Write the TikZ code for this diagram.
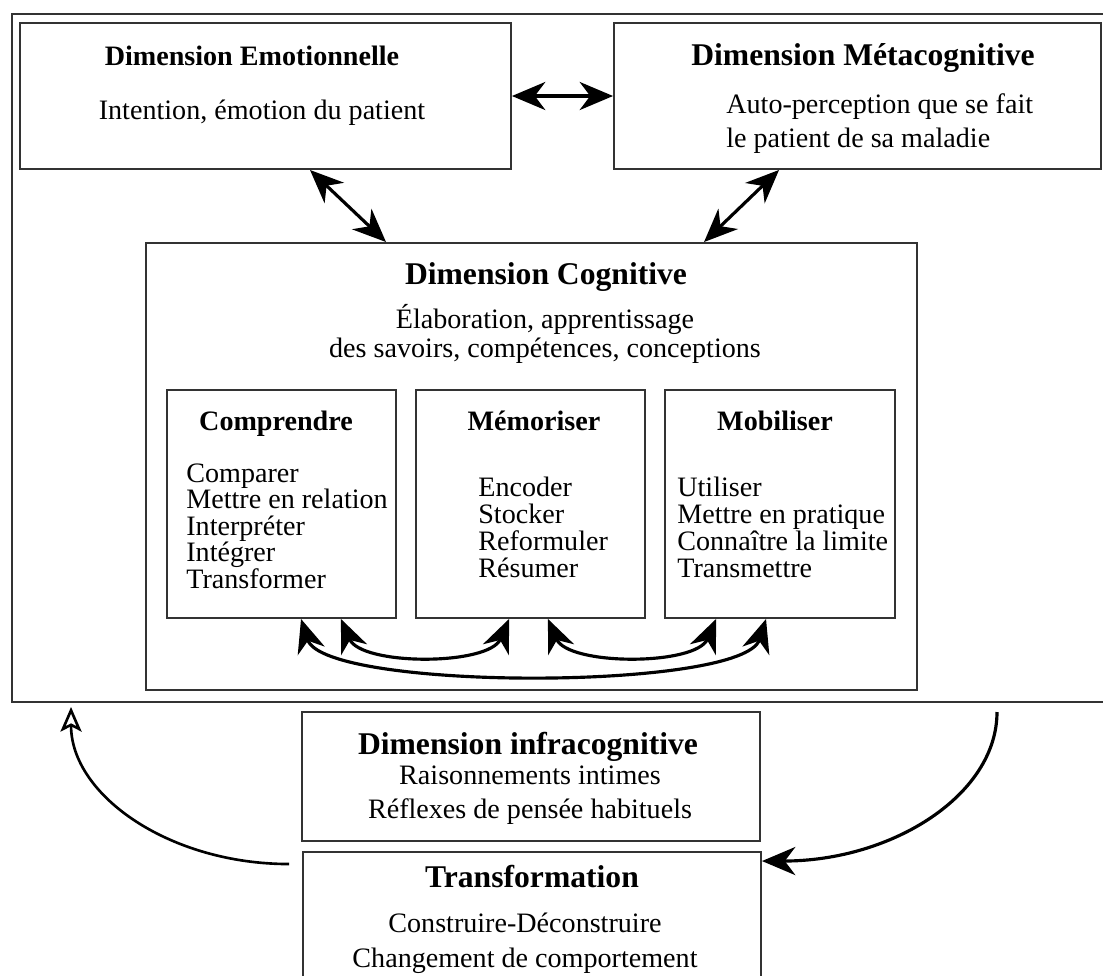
\documentclass[tikz,border=0pt]{standalone}
\usepackage{fontspec}
\setmainfont{Liberation Serif}
\usetikzlibrary{arrows.meta,fit,calc}
\tikzset{
  cadre/.style={draw=black!80, line width=1.1pt, inner sep=0pt},
  titre/.style={font=\bfseries\fontsize{18}{21}\selectfont, anchor=base, inner sep=0pt},
  soustitre/.style={font=\bfseries\fontsize{16}{19}\selectfont, anchor=base, inner sep=0pt},
  texte/.style={font=\fontsize{16}{19}\selectfont, anchor=base, inner sep=0pt},
  pointe/.tip={Stealth[length=19pt,width=16pt,inset=6pt]},
  fleche/.style={line width=1.8pt, {pointe}-{pointe}}
}
\begin{document}
\begin{tikzpicture}[x=0.02cm, y=-0.02cm]
\useasboundingbox (0,0) rectangle (1103,975);
\clip (0,0) rectangle (1103,975);
% les cadres
\node[cadre, fit={(12,14) (1115,702)}] (cadre) {};
\node[cadre, fit={(20,23) (511,169)}] (emo) {};
\node[cadre, fit={(614,23) (1101,169)}] (meta) {};
\node[cadre, fit={(146,243) (917,690)}] (cog) {};
\node[cadre, fit={(167,390) (396,618)}] (cmp) {};
\node[cadre, fit={(416,390) (645,618)}] (mem) {};
\node[cadre, fit={(665,390) (895,618)}] (mob) {};
\node[cadre, fit={(302,712) (760,841)}] (infra) {};
\node[cadre, fit={(303,852) (761,990)}] (trans) {};
% les textes
\node[soustitre] (emotitre) at (252,65) {Dimension Emotionnelle};
\node[texte] (emotexte) at (262,119) {Intention, émotion du patient};
\node[titre] (metatitre) at (863,65) {Dimension Métacognitive};
\node[texte, anchor=base west] (metatexte1) at (726,113) {Auto-perception que se fait};
\node[texte, anchor=base west] (metatexte2) at (726,147) {le patient de sa maladie};
\node[titre] (cogtitre) at (546,284) {Dimension Cognitive};
\node[texte] (cogtexte1) at (545,328) {Élaboration, apprentissage};
\node[texte] (cogtexte2) at (545,357) {des savoirs, compétences, conceptions};
\node[soustitre] (cmptitre) at (276,430) {Comprendre};
\node[soustitre] (memtitre) at (534,430) {Mémoriser};
\node[soustitre] (mobtitre) at (775,430) {Mobiliser};
\foreach \mot [count=\i from 0] in {Comparer, Mettre en relation, Interpréter, Intégrer, Transformer}
  \node[texte, anchor=base west] (cmp\i) at (186,{482+26.5*\i}) {\mot};
\foreach \mot [count=\i from 0] in {Encoder, Stocker, Reformuler, Résumer}
  \node[texte, anchor=base west] (mem\i) at (478,{496+27*\i}) {\mot};
\foreach \mot [count=\i from 0] in {Utiliser, Mettre en pratique, Connaître la limite, Transmettre}
  \node[texte, anchor=base west] (mob\i) at (677,{496+27*\i}) {\mot};
\node[titre] (infratitre) at (528,754) {Dimension infracognitive};
\node[texte] (infratexte1) at (530,784) {Raisonnements intimes};
\node[texte] (infratexte2) at (530,818) {Réflexes de pensée habituels};
\node[titre] (transtitre) at (532,887) {Transformation};
\node[texte] (transtexte1) at (525,932) {Construire-Déconstruire};
\node[texte] (transtexte2) at (525,967) {Changement de comportement};
% les fleches
\draw[fleche] (emo.east) -- (meta.west);
\draw[fleche] ($(emo.south)+(44.5,0)$) -- ($(cog.north west)+(241,0)$);
\draw[fleche] ($(meta.south west)+(166,0)$) -- ($(cog.north west)+(559,0)$);
\draw[fleche] ($(cmp.south east)+(-56,0)$) .. controls +(20,47) and +(-20,47) .. ($(mem.south west)+(94,0)$);
\draw[fleche] ($(mem.south east)+(-98,0)$) .. controls +(20,47) and +(-20,47) .. ($(mob.south west)+(52,0)$);
\draw[fleche] ($(cmp.south west)+(135,0)$) .. controls +(23,72) and +(-23,72) .. ($(mob.south west)+(102,0)$);
\draw[line width=1.5pt, -{Stealth[open,length=14pt,width=12pt,inset=3pt]}] ($(trans.north west)+(-13,13)$) .. controls +(-120,0) and +(0,88) .. ($(cadre.south west)+(60,4)$);
\coordinate (depart) at (997,712);
\draw[line width=1.8pt, -{pointe}] (depart) .. controls +(0,83) and +(130,0) .. ($(trans.north east)+(0,10)$);
\end{tikzpicture}
\end{document}
